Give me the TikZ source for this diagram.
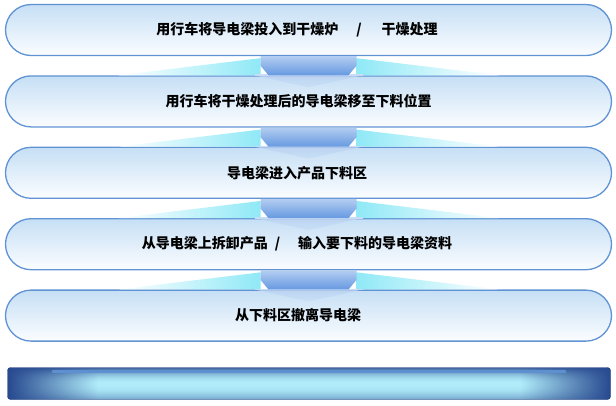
\documentclass[tikz,border=0pt]{standalone}
\usepackage{fontspec}
\newfontfamily\cjk{Noto Sans CJK SC}
\usetikzlibrary{positioning}
\usetikzlibrary{calc}
\definecolor{boxline}{HTML}{5F93D3}
\definecolor{boxtop}{HTML}{C6DFF5}
\definecolor{boxbot}{HTML}{FBFDFF}
\definecolor{arrtop}{HTML}{B3CDF1}
\definecolor{arrbot}{HTML}{6699E1}
\definecolor{glow}{HTML}{8FE9F6}
\definecolor{bardark}{HTML}{27498F}
\definecolor{barmid}{HTML}{5E8FD0}
% barre : clair au centre, sombre vers les bords
\pgfdeclarefunctionalshading{barshade}{\pgfpoint{0bp}{0bp}}{\pgfpoint{100bp}{100bp}}{}{
	50 sub 25 div
	dup 0 gt {dup mul 0.85 mul} {dup mul 0.45 mul} ifelse
	exch 50 sub abs 25 div
	0.7 sub 0.3 div
	dup 0 lt {pop 0} if dup 1 gt {pop 1} if
	1 exch sub exch 1 exch sub mul 1 exch sub
	dup 1 gt {pop 1} if dup 0 lt {pop 0} if
	dup -0.537 mul 0.69 add exch dup -0.639 mul 0.925 add exch -0.419 mul 0.98 add
}
\tikzset{
	stepbox/.style = {rectangle, rounded corners=25.5pt, draw=boxline, line width=1.3pt,
		top color=boxtop, bottom color=boxbot, minimum width=606pt,
		minimum height=51pt, inner sep=0pt},% etape
	steptext/.style = {inner sep=0pt, font=\cjk\bfseries\fontsize{14}{16}\selectfont},
	funnel/.style = {top color=arrtop, middle color=arrbot!85!arrtop, bottom color=arrbot},% fleche
	funneltip/.style = {top color=arrbot!45!white, bottom color=boxtop, opacity=0.8},
	glowl/.style = {left color=white, right color=glow},
	glowr/.style = {left color=glow, right color=white},
	basebar/.style = {rectangle, rounded corners=3pt, draw=bardark!80!black, line width=0.4pt,
		shading=barshade, minimum width=603pt, minimum height=32pt, inner sep=0pt}
}
\begin{document}
\begin{tikzpicture}[x=1pt,y=1pt,node distance=19.1pt]
\useasboundingbox (0,0) rectangle (616,-405);
% etapes
\node [stepbox] (s1) at (308.5,-30) {};
\node [stepbox, below=of s1] (s2) {};
\node [stepbox, below=of s2] (s3) {};
\node [stepbox, below=of s3] (s4) {};
\node [stepbox, below=of s4] (s5) {};
\node [steptext] (t1) at ([xshift=-11.5pt]s1.center)
	{用行车将导电梁投入到干燥炉\hspace{18pt}/\hspace{20pt}干燥处理};
\node [steptext] (t2) at ([xshift=-10pt]s2.center) {用行车将干燥处理后的导电梁移至下料位置};
\node [steptext] (t3) at ([xshift=-11.5pt]s3.center) {导电梁进入产品下料区};
\node [steptext] (t4) at ([xshift=-11.5pt]s4.center)
	{从导电梁上拆卸产品\hspace{7pt}/\hspace{18pt}输入要下料的导电梁资料};
\node [steptext] (t5) at ([xshift=-10.5pt]s5.center) {从下料区撤离导电梁};
% fleches entre les etapes
\foreach \a/\b in {s1/s2, s2/s3, s3/s4, s4/s5}{
	\shade [glowl] ([xshift=-190pt]\b.north) -- ([xshift=-48pt,yshift=-2pt]\a.south)
		-- ([xshift=-48pt]\b.north) -- cycle;
	\shade [glowr] ([xshift=48pt,yshift=-2pt]\a.south) -- ([xshift=190pt]\b.north)
		-- ([xshift=48pt]\b.north) -- cycle;
	\shade [funneltip] ([xshift=-54pt]\b.north) -- ([xshift=54pt]\b.north)
		-- ([yshift=-12pt]\b.north) -- cycle;
	\draw [arrbot!35!white, line width=1.6pt] ([xshift=-54pt]\b.north) -- ([xshift=54pt]\b.north);
	\shade [funnel] ([xshift=-48pt]\a.south) -- ([xshift=48pt]\a.south)
		-- ($(\a.south)!0.5!(\b.north)+(48pt,0)$) -- ([xshift=40pt]\b.north)
		-- ([xshift=-40pt]\b.north) -- ($(\a.south)!0.5!(\b.north)+(-48pt,0)$) -- cycle;
}
% barre du bas
\node [basebar] (bar) at (309,-383.5) {};
\shade [left color=barmid, middle color=white, right color=barmid]
	([xshift=45pt,yshift=-3.4pt]bar.north west) rectangle ([xshift=-45pt,yshift=-5pt]bar.north east);
\end{tikzpicture}
\end{document}
